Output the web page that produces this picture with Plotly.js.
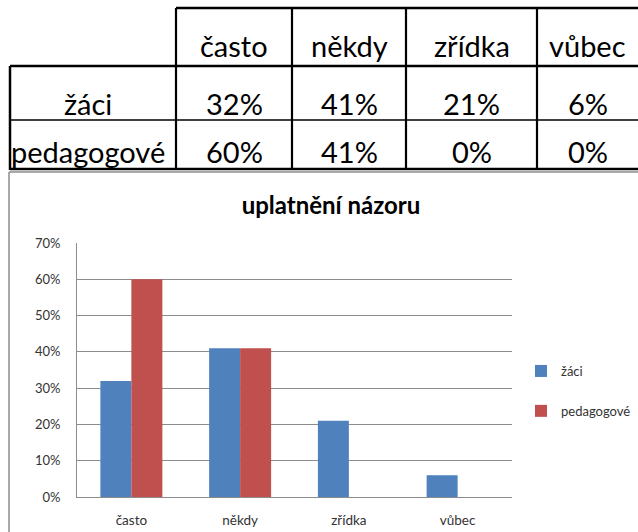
<!DOCTYPE html>
<html>
<head>
<meta charset="utf-8">
<script src="https://cdn.plot.ly/plotly-3.0.1.min.js"></script>
<style>html,body{margin:0;padding:0;background:#fff;}#chart{width:638px;height:532px;}</style>
</head>
<body>
<div id="chart"></div>
<script>
// Data
const categories = ["často", "někdy", "zřídka", "vůbec"];
const seriesNames = ["žáci", "pedagogové"];
const zaci = [32, 41, 21, 6];
const pedagogove = [60, 41, 0, 0];
const chartTitle = "uplatnění názoru";

const W = 638, H = 532;
const px = x => x / W;
const py = y => 1 - y / H;

const FONT = "Lato, 'Open Sans', sans-serif";

// table geometry (pixels)
const colEdges = [176, 292, 406, 537, 638];
const rowCenters = [45, 103, 151];
const rowLabelCenter = 88;

const shapes = [];
function line(x0, y0, x1, y1, w, c) {
  shapes.push({type: "line", xref: "paper", yref: "paper", x0: px(x0), y0: py(y0), x1: px(x1), y1: py(y1),
    line: {color: c || "#000", width: w}});
}
// table lines
line(176, 8, 640, 8, 2.5);
line(10, 66, 640, 66, 2.5);
line(10, 120, 640, 120, 1.5);
line(10, 169, 640, 169, 2.5);
line(10, 66, 10, 170, 2.5);
colEdges.slice(0, 4).forEach(x => line(x, 8, x, 170, 2.2));
// chart area border
line(9, 172, 640, 172, 1.5, "#8c8c8c");
line(9, 172, 9, 534, 1.5, "#8c8c8c");

const annotations = [];
function txt(x, y, t, size) {
  annotations.push({xref: "paper", yref: "paper", x: px(x), y: py(y), text: t, showarrow: false,
    xanchor: "center", yanchor: "middle", font: {family: FONT, size: size, color: "#000"}});
}
const TS = 29;
categories.forEach((c, i) => txt((colEdges[i] + colEdges[i + 1]) / 2, rowCenters[0], c, TS));
txt(rowLabelCenter, rowCenters[1], seriesNames[0], TS);
txt(rowLabelCenter, rowCenters[2], seriesNames[1], TS);
zaci.forEach((v, i) => txt((colEdges[i] + colEdges[i + 1]) / 2, rowCenters[1], v + "%", TS));
pedagogove.forEach((v, i) => txt((colEdges[i] + colEdges[i + 1]) / 2, rowCenters[2], v + "%", TS));

const data = [
  {type: "bar", name: seriesNames[0], x: categories, y: zaci, marker: {color: "#4F81BD"}, legendgroup: "a", hoverinfo: "none"},
  {type: "bar", name: seriesNames[1], x: categories, y: pedagogove, marker: {color: "#C0504D"}, legendgroup: "b", hoverinfo: "none"}
];

const layout = {
  width: W, height: H,
  margin: {l: 0, r: 0, t: 0, b: 0},
  paper_bgcolor: "#fff", plot_bgcolor: "#fff",
  barmode: "group", bargap: 0.43, bargroupgap: 0,
  title: {text: "<b>" + chartTitle + "</b>", x: px(331), y: py(206), xanchor: "center", yanchor: "middle",
    font: {family: FONT, size: 24, color: "#000"}},
  xaxis: {domain: [px(77), px(512)], showgrid: false, showline: true, linecolor: "#8c8c8c", linewidth: 1,
    ticks: "", tickfont: {family: FONT, size: 13.5, color: "#333"}, ticklabelstandoff: 11, fixedrange: true},
  yaxis: {domain: [py(497), py(243)], range: [0, 70], dtick: 10, ticksuffix: "%", showgrid: true,
    gridcolor: "#8c8c8c", gridwidth: 1, showline: true, linecolor: "#8c8c8c", linewidth: 1, zeroline: false,
    ticks: "", tickfont: {family: FONT, size: 13, color: "#333"}, ticklabelstandoff: 13, fixedrange: true},
  legend: {x: px(521), y: py(356), xanchor: "left", yanchor: "top", tracegroupgap: 20,
    font: {family: FONT, size: 13, color: "#333"}, itemwidth: 30, bgcolor: "rgba(0,0,0,0)"},
  showlegend: true,
  shapes: shapes,
  annotations: annotations
};

Plotly.newPlot("chart", data, layout, {staticPlot: true, displayModeBar: false});
</script>
</body>
</html>
